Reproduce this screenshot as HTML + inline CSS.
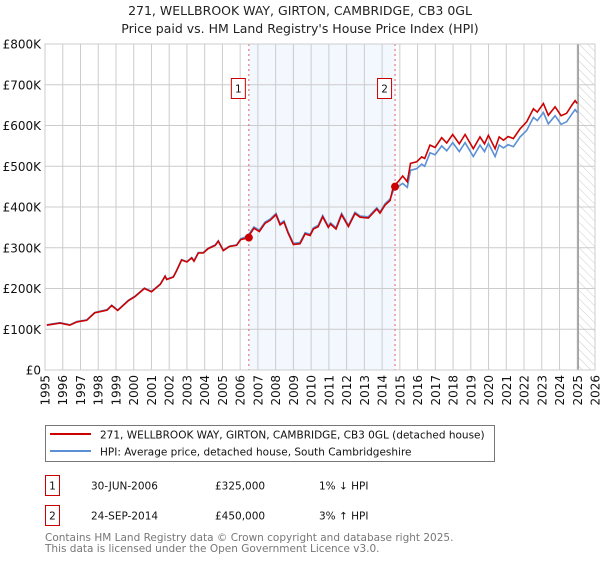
<!DOCTYPE html>
<html><head><meta charset="utf-8"><style>
body{margin:0;background:#fff;font-family:"DejaVu Sans","Liberation Sans",sans-serif}
svg text{font-family:"DejaVu Sans","Liberation Sans",sans-serif}
</style></head><body>
<svg id="chart" width="600" height="560" viewBox="0 0 600 560" xmlns="http://www.w3.org/2000/svg">
<defs>
<pattern id="hatch" width="6" height="6" patternUnits="userSpaceOnUse" patternTransform="rotate(-45)"><line x1="0" y1="0" x2="0" y2="6" stroke="#ccc" stroke-width="1"/></pattern>
<clipPath id="clip"><rect x="45" y="44" width="550" height="326"/></clipPath>
</defs>
<text x="300" y="15" text-anchor="middle" font-size="12.5" fill="#222">271, WELLBROOK WAY, GIRTON, CAMBRIDGE, CB3 0GL</text>
<text x="300" y="33" text-anchor="middle" font-size="12.5" fill="#222">Price paid vs. HM Land Registry's House Price Index (HPI)</text>
<g id="grid"></g>
<g id="marks" clip-path="url(#clip)"></g>
<g id="axes"></g>
<g>
<rect x="45.5" y="425.5" width="449" height="36" fill="#fff" stroke="#777"/>
<line x1="50" y1="434" x2="91" y2="434" stroke="#cc0000" stroke-width="2"/>
<text x="100" y="438.5" font-size="10.5" fill="#111">271, WELLBROOK WAY, GIRTON, CAMBRIDGE, CB3 0GL (detached house)</text>
<line x1="50" y1="451" x2="91" y2="451" stroke="#5b8fd6" stroke-width="2"/>
<text x="100" y="455.5" font-size="10.5" fill="#111">HPI: Average price, detached house, South Cambridgeshire</text>
</g>
<g font-size="10.5" fill="#111">
<rect x="45.5" y="475.5" width="14" height="20" fill="#fff" stroke="#cc0000"/>
<text x="52.5" y="489.5" text-anchor="middle">1</text>
<text x="91" y="489.5">30-JUN-2006</text>
<text x="215" y="489.5">£325,000</text>
<text x="319" y="489.5">1% ↓ HPI</text>
<rect x="45.5" y="505.5" width="14" height="20" fill="#fff" stroke="#cc0000"/>
<text x="52.5" y="519.5" text-anchor="middle">2</text>
<text x="91" y="519.5">24-SEP-2014</text>
<text x="215" y="519.5">£450,000</text>
<text x="319" y="519.5">3% ↑ HPI</text>
</g>
<text x="45" y="541" font-size="10.5" fill="#777">Contains HM Land Registry data © Crown copyright and database right 2025.</text>
<text x="45" y="552" font-size="10.5" fill="#777">This data is licensed under the Open Government Licence v3.0.</text>
</svg>
<script>
const years=[1995.1,1995.85,1996.4,1996.8,1997.35,1997.8,1998.5,1998.76,1999.1,1999.7,2000.07,2000.6,2001.0,2001.5,2001.77,2001.86,2002.23,2002.4,2002.7,2003.0,2003.27,2003.4,2003.64,2003.92,2004.2,2004.6,2004.77,2005.05,2005.4,2005.8,2006.03,2006.4,2006.78,2007.08,2007.4,2007.68,2008.02,2008.25,2008.47,2008.7,2009.0,2009.37,2009.66,2009.94,2010.13,2010.4,2010.65,2010.97,2011.1,2011.4,2011.72,2012.1,2012.47,2012.76,2013.22,2013.7,2013.88,2014.17,2014.45,2014.63,2014.9,2015.16,2015.42,2015.6,2015.95,2016.23,2016.4,2016.7,2016.99,2017.36,2017.64,2017.98,2018.35,2018.68,2019.14,2019.52,2019.77,2019.99,2020.37,2020.6,2020.84,2021.1,2021.4,2021.78,2022.15,2022.53,2022.75,2023.09,2023.37,2023.75,2024.09,2024.4,2024.7,2024.88,2025.0];
const priceSeries=[110,115,110,118,122,140,147,158,146,170,180,200,192,210,230,222,228,242,270,265,275,267,287,287,298,306,316,293,303,306,320,324,348,340,360,367,381,356,363,336,308,310,334,330,346,352,376,350,358,346,381,352,384,375,373,395,385,405,416,450,462,476,462,507,511,523,519,552,546,570,557,578,555,578,543,572,555,576,543,572,564,573,568,592,609,641,633,654,625,646,624,630,650,661,654];
const hpiSeries=[111,116,111,119,123,141,148,159,147,171,181,201,193,211,231,223,229,243,271,266,276,268,288,288,299,307,317,294,304,307,322,328,351,343,363,370,384,359,366,339,311,313,337,333,349,355,379,353,361,349,384,355,387,378,376,398,388,408,420,440,450,458,448,490,494,505,500,533,528,550,538,558,536,558,524,552,536,556,524,552,545,553,548,572,588,620,612,632,604,624,603,609,628,639,632];
const yTicks=[0,100,200,300,400,500,600,700,800];
const yTickLabels=["£0","£100K","£200K","£300K","£400K","£500K","£600K","£700K","£800K"];
const xTicks=[1995,1996,1997,1998,1999,2000,2001,2002,2003,2004,2005,2006,2007,2008,2009,2010,2011,2012,2013,2014,2015,2016,2017,2018,2019,2020,2021,2022,2023,2024,2025,2026];
const saleYears=[2006.49,2014.73];
const saleValues=[325,450];
const saleLabels=["1","2"];
const NS="http://www.w3.org/2000/svg";
const X=y=>45+(y-1995)*(550/31);
const Y=v=>370-v*0.4075;
function mk(t,a,p){const e=document.createElementNS(NS,t);for(const k in a)e.setAttribute(k,a[k]);p.appendChild(e);return e;}
const grid=document.getElementById('grid'),marks=document.getElementById('marks'),axes=document.getElementById('axes');
// shaded period
let sh=mk('rect',{x:X(saleYears[0]),y:44,width:X(saleYears[1])-X(saleYears[0]),height:326,fill:'#eef3fd',opacity:0.7},grid);


let ht=mk('rect',{x:X(2025.05),y:44,width:595-X(2025.05),height:326,fill:'url(#hatch)'},grid);


yTicks.forEach((v,i)=>{
 let l=mk('line',{x1:45,x2:595,y1:Y(v),y2:Y(v),stroke:'#ccc','stroke-width':1},grid);
 
 
 let t=mk('text',{x:41,y:Y(v)+4.5,'text-anchor':'end','font-size':'12',fill:'#111'},axes);
 
 
 t.textContent=yTickLabels[i];
});
xTicks.forEach(y=>{
 let l=mk('line',{x1:X(y),x2:X(y),y1:44,y2:370,stroke:'#ccc','stroke-width':1},grid);
 
 
 let t=mk('text',{x:0,y:0,'text-anchor':'end','font-size':'12',fill:'#111',transform:`translate(${X(y)+4.5},375) rotate(-90)`},axes);
 
 
 t.textContent=y;
});
let vl=mk('line',{x1:X(2025.05),x2:X(2025.05),y1:44,y2:370,stroke:'#999','stroke-width':1.5},grid);


function path(vals){return vals.map((v,i)=>(i?'L':'M')+X(years[i]).toFixed(1)+','+Y(v).toFixed(1)).join('');}
let hp=mk('path',{d:path(hpiSeries),fill:'none',stroke:'#5b8fd6','stroke-width':1.6},marks);


let pp=mk('path',{d:path(priceSeries),fill:'none',stroke:'#cc0000','stroke-width':1.6},marks);


saleYears.forEach((y,i)=>{
 let d=mk('line',{x1:X(y),x2:X(y),y1:44,y2:370,stroke:'#e06060','stroke-width':1,'stroke-dasharray':'2,3'},marks);
 
 
 let c=mk('circle',{cx:X(y),cy:Y(saleValues[i]),r:4,fill:'#cc0000'},marks);
 
 
 let b=mk('rect',{x:X(y)-17.5,y:78.5,width:14,height:20,fill:'#fff',stroke:'#cc0000'},axes);
 
 
 let t=mk('text',{x:X(y)-10.5,y:92.5,'text-anchor':'middle','font-size':'10.5',fill:'#111'},axes);
 
 
 t.textContent=saleLabels[i];
});
let fr=mk('rect',{x:45,y:44,width:550,height:326,fill:'none',stroke:'#ccc'},axes);


</script>
</body></html>
